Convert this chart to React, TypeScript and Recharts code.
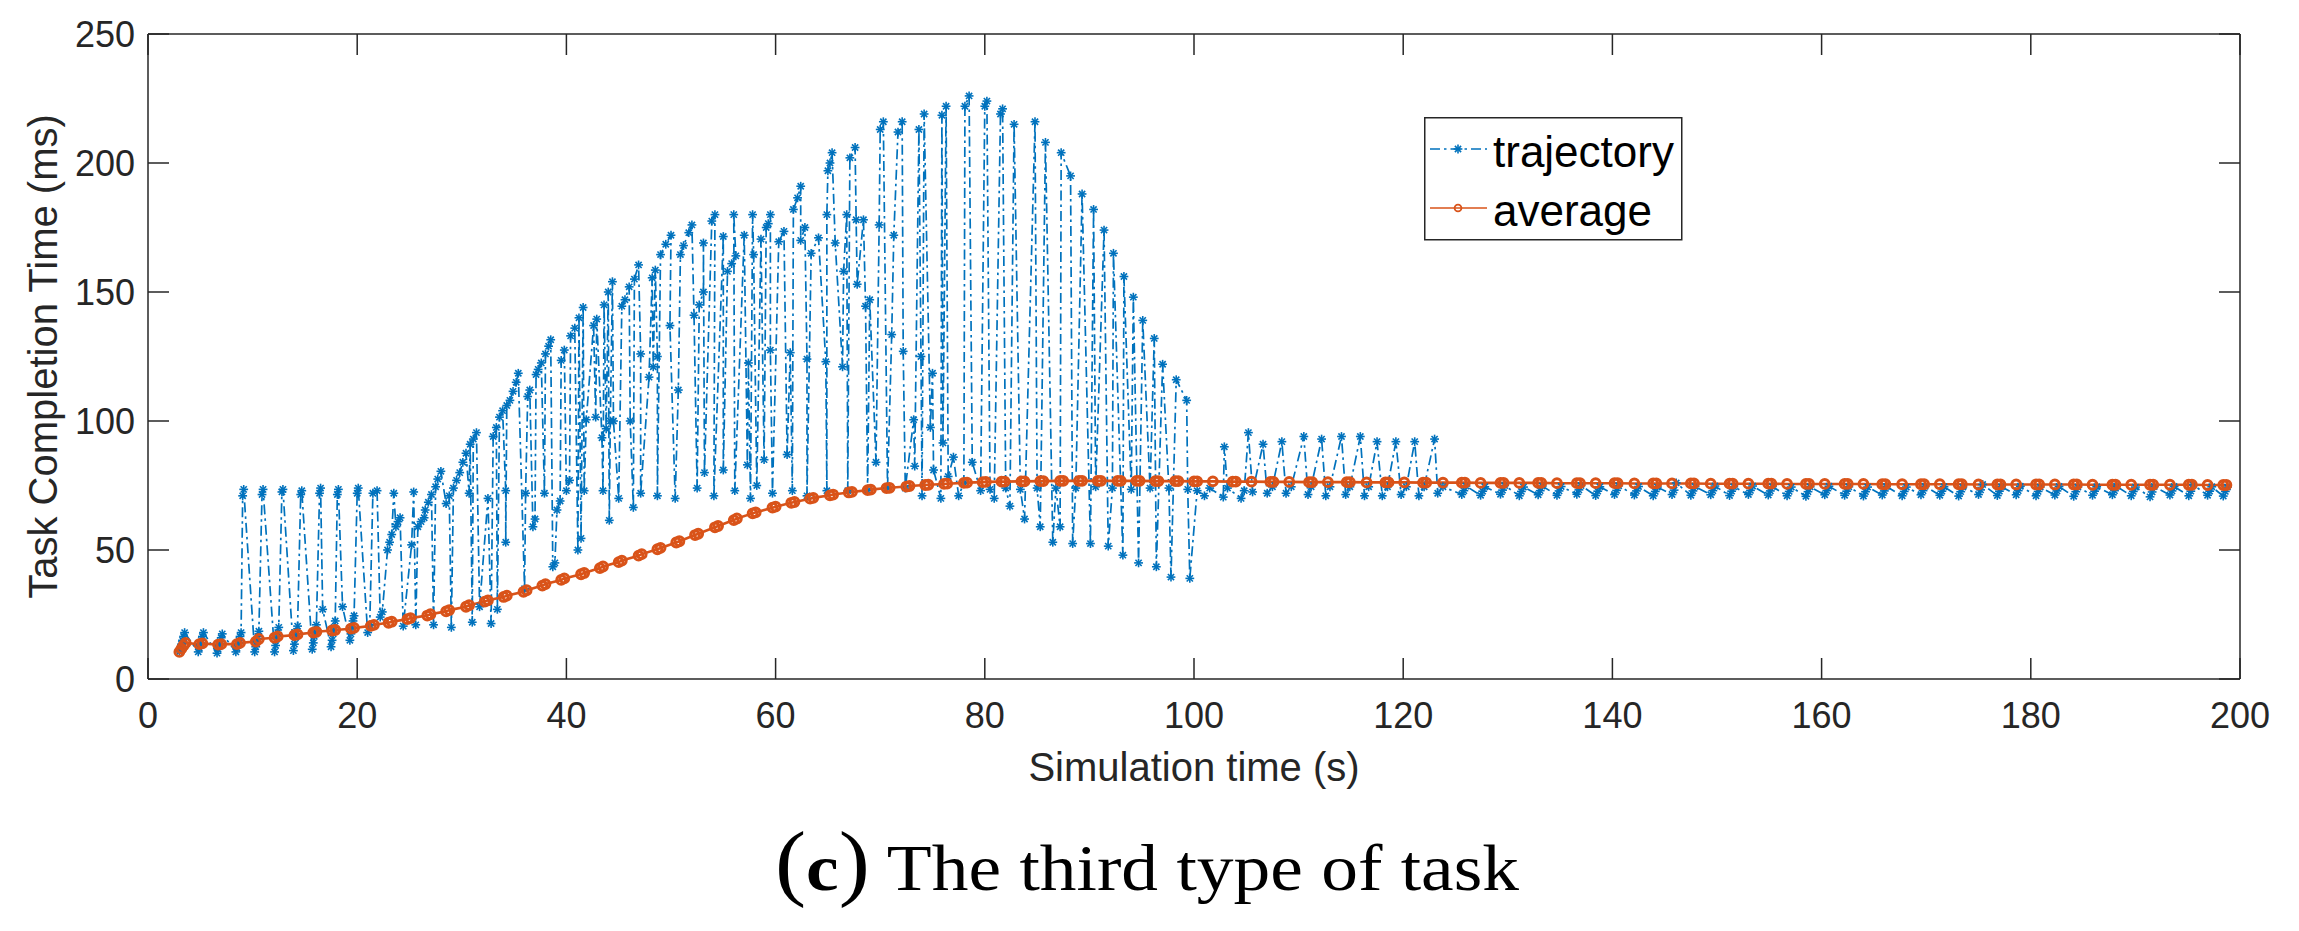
import React from 'react'
import { LineChart, Line, XAxis, YAxis, Legend } from 'recharts'

const BLUE = '#0072BD'
const ORANGE = '#D95319'
const AXIS = '#262626'
const SANS = '"Liberation Sans", Arial, Helvetica, sans-serif'
const SERIF = '"Liberation Serif", "Times New Roman", serif'

const xTicks = [0, 20, 40, 60, 80, 100, 120, 140, 160, 180, 200]
const yTicks = [0, 50, 100, 150, 200, 250]

type Pt = [number, number]

// trajectory in pieces (time s, ms)
const trajWarmup: Pt[] = [
  [3.0, 10.5], [3.1, 12], [3.2, 13.5], [3.3, 15], [3.4, 16.5], [3.5, 18],
  [4.8, 10.5], [4.9, 12], [5.0, 13.5], [5.1, 15], [5.2, 16.5], [5.3, 18],
  [6.6, 10], [6.7, 11.5], [6.8, 13], [6.9, 14.5], [7.0, 16], [7.1, 17.5],
  [8.4, 10.5], [8.5, 12], [8.6, 13.5], [8.7, 15], [8.8, 16.5], [8.9, 18],
]

const trajPlateau: Pt[] = [
  [9.05, 71], [9.15, 73.5],
  [10.2, 10.5], [10.3, 12.5], [10.4, 14.5], [10.5, 16.5], [10.6, 18.5], [10.9, 71.5], [11.0, 73.5],
  [12.1, 10.5], [12.2, 13], [12.3, 15.5], [12.4, 18], [12.5, 20], [12.8, 72.5], [12.9, 73.5],
  [13.9, 11], [14.0, 13.5], [14.1, 16], [14.2, 18.5], [14.3, 20.5], [14.6, 71.5], [14.7, 73],
  [15.7, 11.5], [15.8, 14], [15.9, 16.5], [16.0, 19], [16.1, 21], [16.4, 72], [16.5, 74], [16.7, 27],
  [17.5, 12.5], [17.6, 15], [17.7, 17.5], [17.8, 20], [17.9, 22.5], [18.1, 71.5], [18.2, 73.5], [18.6, 28],
  [19.3, 15], [19.4, 17.5], [19.5, 20], [19.6, 22.5], [19.7, 24.5], [20.0, 72], [20.1, 74],
  [21.0, 18], [21.2, 21], [21.5, 72], [21.9, 73], [22.2, 24], [22.4, 26],
  [22.9, 50], [23.1, 53], [23.3, 56], [23.5, 72], [23.7, 59], [23.9, 61], [24.1, 62.5], [24.4, 20.5],
  [25.2, 52], [25.4, 72.5], [25.6, 21], [25.8, 59], [26.1, 61], [26.4, 62.5],
]

const trajRise: Pt[] = [
  [26.5, 65.5], [26.8, 68.5], [27.1, 71.5], [27.3, 21], [27.5, 74.5], [27.7, 77.5], [28.0, 80.5],
  [28.5, 68], [28.8, 71], [29.0, 20], [29.2, 74], [29.5, 77], [29.8, 80],
  [30.1, 84], [30.4, 87.5], [30.7, 72], [30.8, 91], [31.0, 22], [31.1, 93], [31.4, 95.5],
  [31.7, 28], [32.5, 70], [32.8, 21.5], [33.0, 94], [33.3, 97.5], [33.4, 27], [33.6, 101.5],
  [33.9, 104], [34.2, 73], [34.2, 53], [34.3, 106],
  [34.6, 108], [34.9, 111.5], [35.2, 115], [35.4, 118.5],
  [36.0, 35], [36.1, 72], [36.3, 109.5], [36.5, 112], [36.8, 59], [37.0, 62], [37.1, 118], [37.3, 120],
  [37.6, 122.5], [37.9, 72], [38.0, 126], [38.3, 129], [38.5, 131.5], [38.7, 43.5], [38.9, 45],
  [39.1, 65.5], [39.4, 69], [39.5, 123.5], [39.8, 127.5], [40.0, 73], [40.3, 77], [40.4, 133],
  [40.8, 136], [41.1, 50], [41.2, 140], [41.4, 54.5], [41.6, 144], [41.7, 73],
]

const trajClimb: Pt[] = [
  [41.9, 100.5], [42.6, 137], [42.8, 101.5], [42.9, 139.5], [43.4, 93.5], [43.5, 73], [43.6, 145],
  [43.8, 97], [44.0, 150], [44.1, 61.5], [44.2, 100], [44.4, 154], [44.5, 100],
  [45.0, 70], [45.3, 144.5], [45.6, 147], [46.0, 152], [46.1, 100], [46.4, 66.5], [46.5, 155],
  [46.9, 160.5], [47.1, 126], [47.1, 72],
  [47.9, 117], [48.2, 155.5], [48.3, 121], [48.5, 158.5], [48.7, 125], [48.7, 71],
  [49.0, 164.5], [49.5, 168.5], [50.0, 172], [49.9, 137], [50.4, 70], [50.7, 112], [50.9, 164.5], [51.2, 168],
  [51.7, 173], [52.0, 176], [52.2, 141], [52.5, 74], [52.7, 145], [53.1, 150], [53.1, 169], [53.2, 80],
  [53.9, 177.5], [54.2, 180], [54.1, 71], [55.0, 171.5], [55.0, 81], [55.4, 158], [55.8, 161],
  [56.2, 164], [56.0, 180], [56.1, 73],
  [57.0, 172], [57.3, 83], [57.4, 122.5], [57.6, 70], [57.8, 180], [57.9, 164.5], [58.2, 75],
  [58.6, 170.5], [58.9, 85],
  [59.1, 175], [59.3, 176.5], [59.5, 180], [59.5, 127.5], [59.7, 72], [60.3, 169.5], [60.8, 173.5],
  [61.1, 87], [61.4, 126.5], [61.6, 73], [61.7, 182], [62.1, 186.5], [62.4, 191],
]

const trajPeak: Pt[] = [
  [62.4, 170], [62.8, 175], [63.0, 124], [63.0, 71], [63.4, 165], [64.1, 171], [64.8, 123], [64.9, 73],
  [64.9, 180], [65.0, 197], [65.2, 200], [65.4, 204], [65.7, 169], [66.4, 121], [66.5, 158], [66.8, 180],
  [66.9, 73], [67.1, 202], [67.6, 206], [67.7, 178], [67.8, 153], [68.4, 178], [68.6, 144.5], [68.8, 73],
  [69.0, 147], [69.6, 84], [69.9, 176], [70.0, 213], [70.3, 216], [70.7, 74], [71.1, 133.5], [71.3, 172],
  [71.7, 212], [72.1, 216], [72.2, 127], [72.4, 74], [73.2, 100.5], [73.3, 82.5], [73.7, 213], [73.9, 125],
  [74.0, 71], [74.2, 219], [74.8, 97.5], [75.0, 118.5], [75.1, 81], [75.8, 70], [75.9, 218.5], [76.0, 91.5],
  [76.3, 222], [76.5, 78.5], [77.0, 86], [77.5, 71], [78.0, 76], [78.1, 222], [78.5, 226], [78.8, 84],
  [79.6, 73], [80.0, 222], [80.2, 224], [80.5, 73.5], [80.9, 70], [81.5, 219], [81.7, 221], [82.0, 74],
  [82.4, 67], [82.8, 215], [83.4, 73.5], [83.8, 62], [84.8, 216], [85.0, 74], [85.3, 59], [85.8, 208],
  [86.5, 53], [86.8, 74], [87.2, 59], [87.3, 204], [88.2, 195], [88.4, 52.5], [88.7, 74], [89.3, 188],
  [90.1, 52.5], [90.4, 182], [90.6, 74.5], [91.4, 174], [91.8, 51.5], [92.2, 74], [92.3, 165], [93.2, 48],
  [93.3, 156], [94.0, 73.5], [94.2, 148], [94.7, 45], [95.1, 139], [95.8, 74], [96.2, 132], [96.4, 43.5],
  [97.0, 122], [97.6, 74], [97.8, 39.5], [98.3, 116], [99.3, 108], [99.4, 73.5], [99.6, 39],
]

const trajSettle: Pt[] = [
  [100.3, 73], [101.0, 71], [101.5, 74], [102.8, 70.5], [102.9, 90], [103.2, 74], [104.5, 70], [104.8, 73],
  [105.2, 95.5], [105.6, 72.5], [106.6, 91], [107.0, 72], [107.5, 74.5], [108.4, 92], [108.8, 72],
  [109.3, 74.5], [110.5, 94], [110.9, 71.5], [111.2, 74.5], [112.2, 93], [112.6, 71], [113.0, 74.5],
  [114.1, 94], [114.5, 71.5], [114.9, 74.5], [115.9, 94], [116.3, 71], [116.7, 74.5], [117.5, 92],
  [118.0, 71], [118.5, 74.5], [119.3, 92], [119.8, 71.5], [120.3, 74.5], [121.1, 92], [121.5, 71],
  [122.0, 74.5], [123.0, 93], [123.3, 72], [123.8, 74.5],
]

const trajSteady: Pt[] = [
  [125.6, 71.5], [125.8, 73], [126.0, 74.8], [127.4, 71.2], [127.6, 72.8], [127.8, 74.5],
  [129.3, 71.6], [129.5, 73.2], [129.7, 75], [131.1, 71], [131.3, 72.7], [131.5, 74.4],
  [132.9, 71.4], [133.1, 73], [133.3, 74.8], [134.7, 71.2], [134.9, 72.9], [135.1, 74.6],
  [136.6, 71.6], [136.8, 73.3], [137.0, 75], [138.4, 71.1], [138.6, 72.8], [138.8, 74.5],
  [140.2, 71.5], [140.4, 73.1], [140.6, 74.9], [142.1, 71.3], [142.3, 72.9], [142.5, 74.6],
  [143.9, 71], [144.1, 72.7], [144.3, 74.4], [145.7, 71.5], [145.9, 73.2], [146.1, 76],
  [147.5, 71.2], [147.7, 72.9], [147.9, 74.6], [149.4, 71.4], [149.6, 73], [149.8, 74.8],
  [151.2, 71.1], [151.4, 72.8], [151.6, 74.5], [153.0, 71.5], [153.2, 73.1], [153.4, 74.8],
  [154.9, 71.3], [155.1, 72.9], [155.3, 74.6], [156.7, 71], [156.9, 72.7], [157.1, 74.4],
  [158.5, 70.8], [158.7, 72.6], [158.9, 74.5], [160.3, 71.4], [160.5, 73], [160.7, 74.7],
  [162.2, 71.2], [162.4, 72.8], [162.6, 74.5], [164.0, 70.9], [164.2, 72.6], [164.4, 74.4],
  [165.8, 71.3], [166.0, 72.9], [166.2, 74.6], [167.7, 71], [167.9, 72.7], [168.1, 74.4],
  [169.5, 71.4], [169.7, 73], [169.9, 74.7], [171.3, 71.2], [171.5, 72.8], [171.7, 74.5],
  [173.1, 70.9], [173.3, 72.6], [173.5, 74.4], [175.0, 71.5], [175.2, 73.3], [175.4, 75.4],
  [176.8, 71.1], [177.0, 72.8], [177.2, 74.5], [178.6, 71.4], [178.8, 73], [179.0, 74.7],
  [180.5, 71], [180.7, 72.7], [180.9, 74.4], [182.3, 71.3], [182.5, 72.9], [182.7, 74.6],
  [184.1, 70.8], [184.3, 72.6], [184.5, 74.4], [185.9, 71.2], [186.1, 72.8], [186.3, 74.5],
  [187.8, 71.4], [188.0, 73], [188.2, 74.7], [189.6, 71], [189.8, 72.7], [190.0, 74.4],
  [191.4, 70.6], [191.6, 72.5], [191.8, 74.6], [193.3, 71.3], [193.5, 72.9], [193.7, 74.6],
  [195.1, 71], [195.3, 72.8], [195.5, 75.3], [196.9, 71.2], [197.1, 72.8], [197.3, 74.5],
  [198.4, 70.9], [198.6, 72.7], [198.8, 74.4],
]

// running average
const avgRamp: Pt[] = [
  [3.0, 10.5], [3.2, 11.8], [3.4, 13], [3.6, 14], [4.9, 13.5], [5.2, 13.8], [6.7, 13.3], [7.0, 13.5],
  [8.5, 13.5], [8.8, 14], [10.3, 14.5], [10.6, 15.5], [12.1, 16], [12.4, 16.5], [14.0, 17], [14.3, 17.3],
  [15.8, 18], [16.1, 18.3], [17.6, 18.8], [17.9, 19], [19.4, 19.5], [19.7, 19.8], [21.3, 20.6], [21.6, 21],
  [23.0, 21.8], [23.3, 22.2], [24.8, 23.2], [25.1, 23.6], [26.7, 24.6], [27.0, 25.1], [28.5, 26.2],
  [28.8, 26.7], [30.4, 28], [30.7, 28.6], [32.2, 30], [32.5, 30.5], [34.0, 31.8], [34.3, 32.3],
  [35.9, 33.8], [36.2, 34.4], [37.7, 36.2], [38.0, 36.8], [39.5, 38.4], [39.8, 39],
]

const avgClimb: Pt[] = [
  [41.4, 40.6], [41.7, 41.1], [43.2, 43], [43.5, 43.6], [45.0, 45.3], [45.3, 45.9], [46.9, 47.8],
  [47.2, 48.4], [48.7, 50.3], [49.0, 50.8], [50.5, 52.9], [50.8, 53.4], [52.3, 55.8], [52.6, 56.3],
  [54.2, 58.8], [54.5, 59.3], [56.0, 61.6], [56.3, 62.2], [57.8, 64.2], [58.1, 64.6], [59.7, 66.4],
  [60.0, 66.8], [61.5, 68.3], [61.8, 68.6], [63.3, 69.9], [63.6, 70.2], [65.2, 71.2], [65.5, 71.5],
  [67.0, 72.3], [67.3, 72.5], [68.8, 73.2], [69.1, 73.4], [70.6, 74], [70.9, 74.1], [72.5, 74.6],
  [72.8, 74.8], [74.3, 75.2], [74.6, 75.3], [76.1, 75.6], [76.4, 75.7], [78.0, 76], [78.3, 76.1],
  [79.8, 76.3], [80.1, 76.4],
]

const avgHold: Pt[] = [
  [81.6, 76.5], [81.9, 76.5], [83.5, 76.6], [83.8, 76.6], [85.3, 76.7], [85.6, 76.7], [87.2, 76.8],
  [87.5, 76.8], [89.0, 76.8], [89.3, 76.8], [90.8, 76.8], [91.1, 76.8], [92.7, 76.8], [93.0, 76.8],
  [94.5, 76.8], [94.8, 76.8], [96.3, 76.7], [96.6, 76.7], [98.2, 76.7], [98.5, 76.7], [100.0, 76.6],
  [100.3, 76.6], [101.8, 76.6], [103.7, 76.5], [104.0, 76.5], [105.5, 76.5], [107.3, 76.4],
  [107.6, 76.4], [109.1, 76.4], [111.0, 76.3], [111.3, 76.3], [112.8, 76.3], [114.6, 76.3],
  [114.9, 76.3], [116.5, 76.2], [118.3, 76.2], [118.6, 76.2], [120.1, 76.2], [121.9, 76.1],
  [122.2, 76.1], [123.8, 76.1], [125.6, 76.1], [125.9, 76.1], [127.4, 76], [129.3, 76], [129.6, 76],
  [131.1, 76], [132.9, 76], [133.2, 76], [134.7, 75.9], [136.6, 75.9], [136.9, 75.9], [138.4, 75.9],
  [140.2, 75.9], [140.5, 75.9], [142.1, 75.8], [143.9, 75.8], [144.2, 75.8], [145.7, 75.8],
  [147.5, 75.8], [147.8, 75.8], [149.4, 75.7], [151.2, 75.7], [151.5, 75.7], [153.0, 75.7],
  [154.9, 75.7], [155.2, 75.7], [156.7, 75.6], [158.5, 75.6], [158.8, 75.6], [160.3, 75.6],
  [162.2, 75.6], [162.5, 75.6], [164.0, 75.6], [165.8, 75.5], [166.1, 75.5], [167.7, 75.5],
  [169.5, 75.5], [169.8, 75.5], [171.3, 75.5], [173.1, 75.5], [173.4, 75.5], [175.0, 75.4],
  [176.8, 75.4], [177.1, 75.4], [178.6, 75.4], [180.5, 75.4], [180.8, 75.4], [182.3, 75.4],
  [184.1, 75.4], [184.4, 75.4], [185.9, 75.3], [187.8, 75.3], [188.1, 75.3], [189.6, 75.3],
  [191.4, 75.3], [191.7, 75.3], [193.3, 75.3], [195.1, 75.3], [195.4, 75.3], [196.9, 75.2],
  [198.4, 75.2], [198.7, 75.2],
]

const toRows = (pts: Pt[]) => pts.map(([x, y]) => ({ x, y }))

const trajectoryData = toRows([
  ...trajWarmup, ...trajPlateau, ...trajRise, ...trajClimb, ...trajPeak, ...trajSettle, ...trajSteady,
])
const averageData = toRows([...avgRamp, ...avgClimb, ...avgHold])

const TICK_LEN = 21
const M = 8

function Asterisk({ cx, cy }: { cx: number; cy: number }) {
  const r = 4.4
  const d = 3.1
  return (
    <g stroke={BLUE} strokeWidth={1.6}>
      <line x1={cx - r} y1={cy} x2={cx + r} y2={cy} />
      <line x1={cx} y1={cy - r} x2={cx} y2={cy + r} />
      <line x1={cx - d} y1={cy - d} x2={cx + d} y2={cy + d} />
      <line x1={cx - d} y1={cy + d} x2={cx + d} y2={cy - d} />
    </g>
  )
}

const renderStar = (p: any) => {
  if (p.cx == null || p.cy == null) return <g key={`s-${p.index}`} />
  return <Asterisk key={`s-${p.index}`} cx={p.cx} cy={p.cy} />
}

function BottomTick({ x, y, payload }: any) {
  const ay = y - M
  return (
    <g>
      <line x1={x} x2={x} y1={ay} y2={ay - TICK_LEN} stroke={AXIS} strokeWidth={1.5} />
      <text x={x} y={ay + 49} textAnchor="middle" fill={AXIS} fontSize={36} fontFamily={SANS}>
        {payload.value}
      </text>
    </g>
  )
}

function TopTick({ x, y }: any) {
  const ay = y + M
  return <line x1={x} x2={x} y1={ay} y2={ay + TICK_LEN} stroke={AXIS} strokeWidth={1.5} />
}

function LeftTick({ x, y, payload }: any) {
  const ax = x + M
  return (
    <g>
      <line x1={ax} x2={ax + TICK_LEN} y1={y} y2={y} stroke={AXIS} strokeWidth={1.5} />
      <text x={ax - 13} y={y + 13} textAnchor="end" fill={AXIS} fontSize={36} fontFamily={SANS}>
        {payload.value}
      </text>
    </g>
  )
}

function RightTick({ x, y }: any) {
  const ax = x - M
  return <line x1={ax} x2={ax - TICK_LEN} y1={y} y2={y} stroke={AXIS} strokeWidth={1.5} />
}

const xTitle = (p: any) => {
  const vb = p.viewBox
  return (
    <text x={vb.x + vb.width / 2} y={vb.y + 102} textAnchor="middle" fill={AXIS}
      fontSize={40} fontFamily={SANS}>
      Simulation time (s)
    </text>
  )
}

const yTitle = (p: any) => {
  const vb = p.viewBox
  const tx = vb.x + vb.width - 91
  const ty = vb.y + vb.height / 2
  return (
    <text x={tx} y={ty} transform={`rotate(-90 ${tx} ${ty})`} textAnchor="middle" fill={AXIS}
      fontSize={40} fontFamily={SANS}>
      Task Completion Time (ms)
    </text>
  )
}

function LegendBox() {
  return (
    <svg width={260} height={125} style={{ display: 'block' }}>
      <rect x={0.75} y={0.75} width={257} height={122} fill="#fff" stroke={AXIS} strokeWidth={1.5} />
      <line x1={6} x2={63} y1={32} y2={32} stroke={BLUE} strokeWidth={1.5} strokeDasharray="10 4 2.5 4" />
      <Asterisk cx={34} cy={32} />
      <text x={69} y={50} fontSize={44} fontFamily={SANS} fill="#000">trajectory</text>
      <line x1={6} x2={63} y1={91} y2={91} stroke={ORANGE} strokeWidth={1.5} />
      <circle cx={34} cy={91} r={3.4} fill="none" stroke={ORANGE} strokeWidth={1.8} />
      <text x={69} y={109} fontSize={44} fontFamily={SANS} fill="#000">average</text>
    </svg>
  )
}

const axisLine = { stroke: AXIS, strokeWidth: 1.5 }

export default function App() {
  return (
    <div style={{ position: 'absolute', left: 0, top: 0, width: 2299, height: 931, background: '#fff' }}>
      <LineChart width={2299} height={931} margin={{ top: 33, right: 58, bottom: 251, left: 147 }}>
        <XAxis
          type="number" dataKey="x" domain={[0, 200]} ticks={xTicks} interval={0} allowDataOverflow
          height={1} tickSize={0} tickMargin={M} tick={<BottomTick />} axisLine={axisLine} label={xTitle}
        />
        <XAxis
          xAxisId="top" orientation="top" type="number" dataKey="x" domain={[0, 200]} ticks={xTicks}
          interval={0} allowDataOverflow height={1} tickSize={0} tickMargin={M} tick={<TopTick />}
          axisLine={axisLine}
        />
        <YAxis
          type="number" domain={[0, 250]} ticks={yTicks} interval={0} allowDataOverflow
          width={1} tickSize={0} tickMargin={M} tick={<LeftTick />} axisLine={axisLine} label={yTitle}
        />
        <YAxis
          yAxisId="right" orientation="right" type="number" domain={[0, 250]} ticks={yTicks}
          interval={0} allowDataOverflow width={1} tickSize={0} tickMargin={M} tick={<RightTick />}
          axisLine={axisLine}
        />
        <Legend
          content={() => <LegendBox />}
          layout="vertical" verticalAlign="middle" align="center"
          wrapperStyle={{ left: 1424, top: 117, width: 260, height: 125, margin: 0, padding: 0 }}
        />
        <Line
          data={trajectoryData} dataKey="y" name="trajectory" stroke={BLUE} strokeWidth={1.7}
          strokeDasharray="10 4 2.5 4" dot={renderStar} activeDot={false} isAnimationActive={false}
        />
        <Line
          data={averageData} dataKey="y" name="average" stroke={ORANGE} strokeWidth={2.6}
          dot={{ r: 4.4, stroke: ORANGE, strokeWidth: 3, fill: 'none' }} activeDot={false}
          isAnimationActive={false}
        />
      </LineChart>
      <svg width={2299} height={931} style={{ position: 'absolute', left: 0, top: 0, pointerEvents: 'none' }}>
        <text x={1147} y={890} textAnchor="middle" fontFamily={SERIF} fontSize={66} fill="#000"
          textLength={744} lengthAdjust="spacingAndGlyphs">
          <tspan fontSize={84}>(</tspan>
          <tspan fontWeight="bold">c</tspan>
          <tspan fontSize={84}>)</tspan>
          <tspan> The third type of task</tspan>
        </text>
      </svg>
    </div>
  )
}
